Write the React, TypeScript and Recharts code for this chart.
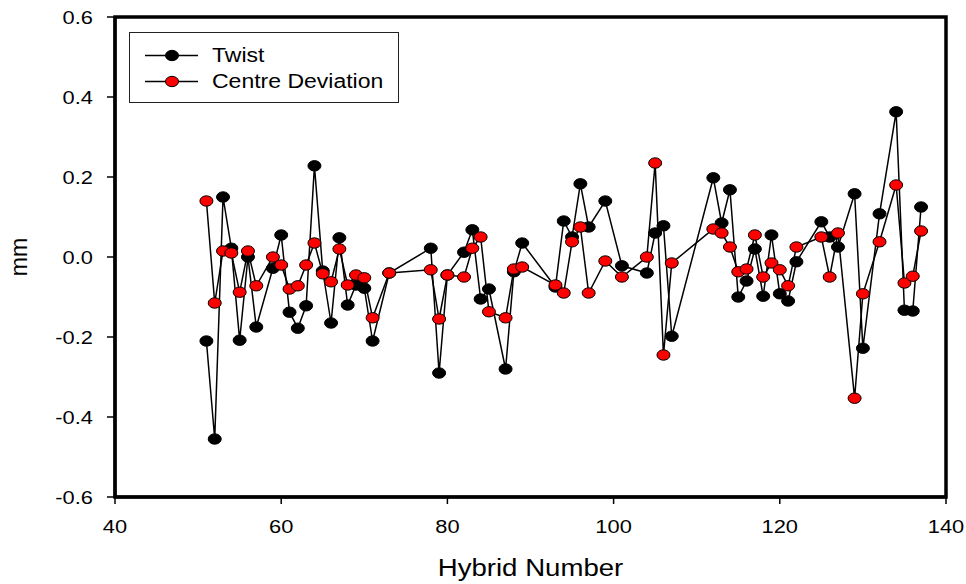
import React from "react";
import {
  LineChart,
  Line,
  XAxis,
  YAxis,
  Legend,
  ReferenceArea,
} from "recharts";

const hybrids = [
  51, 52, 53, 54, 55, 56, 57, 59, 60, 61, 62, 63, 64, 65, 66, 67, 68, 69, 70, 71,
  73, 78, 79, 80, 82, 83, 84, 85, 87, 88, 89, 93, 94, 95, 96, 97, 99, 101, 104,
  105, 106, 107, 112, 113, 114, 115, 116, 117, 118, 119, 120, 121, 122, 125, 126,
  127, 129, 130, 132, 134, 135, 136, 137,
];

const twist = [
  -0.21, -0.455, 0.15, 0.022, -0.208, 0.0, -0.175, -0.028, 0.055, -0.138, -0.178,
  -0.122, 0.228, -0.035, -0.165, 0.048, -0.12, -0.07, -0.078, -0.21, -0.04, 0.022,
  -0.29, -0.045, 0.012, 0.068, -0.105, -0.08, -0.28, -0.037, 0.035, -0.075, 0.09,
  0.05, 0.183, 0.075, 0.14, -0.022, -0.04, 0.06, 0.078, -0.198, 0.198, 0.085, 0.168,
  -0.1, -0.06, 0.02, -0.098, 0.055, -0.092, -0.11, -0.012, 0.088, 0.05, 0.025,
  0.158, -0.228, 0.108, 0.363, -0.133, -0.135, 0.125,
];

const centreDeviation = [
  0.14, -0.115, 0.015, 0.01, -0.088, 0.015, -0.072, 0.0, -0.02, -0.08, -0.072,
  -0.02, 0.035, -0.042, -0.062, 0.02, -0.07, -0.045, -0.052, -0.152, -0.04, -0.032,
  -0.155, -0.045, -0.05, 0.022, 0.05, -0.137, -0.152, -0.03, -0.025, -0.07, -0.09,
  0.038, 0.075, -0.09, -0.01, -0.05, 0.0, 0.235, -0.245, -0.015, 0.07, 0.06, 0.025,
  -0.037, -0.03, 0.055, -0.05, -0.015, -0.032, -0.072, 0.025, 0.05, -0.05, 0.06,
  -0.353, -0.092, 0.038, 0.18, -0.065, -0.048, 0.065,
];

const xTicks = [40, 60, 80, 100, 120, 140];
const yTicks = [-0.6, -0.4, -0.2, 0, 0.2, 0.4, 0.6];

const SERIES = [
  { key: "twist", name: "Twist", fill: "#000000" },
  { key: "centreDeviation", name: "Centre Deviation", fill: "#ff0000" },
];

const data = hybrids.map((h, i) => ({
  hybrid: h,
  twist: twist[i],
  centreDeviation: centreDeviation[i],
}));

const FONT = '"Liberation Sans", Arial, Helvetica, sans-serif';
// the original figure's text is a bit wider than Arial
const STRETCH = 1.15;

const makeDot = (fill: string) => (props: any) => (
  <ellipse
    key={`dot-${fill}-${props.index}`}
    cx={props.cx}
    cy={props.cy}
    rx={6.5}
    ry={5.2}
    fill={fill}
    stroke="#000"
    strokeWidth={1}
  />
);

const YTick = (props: any) => (
  <g transform={`translate(${props.x},${props.y})`}>
    <text
      transform={`scale(${STRETCH},1)`}
      textAnchor="end"
      dy="0.36em"
      fontSize={19}
      fontFamily={FONT}
      fill="#000"
    >
      {Number(props.payload.value).toFixed(1)}
    </text>
  </g>
);

const XTick = (props: any) => (
  <g transform={`translate(${props.x},${props.y})`}>
    <text
      transform={`scale(${STRETCH},1)`}
      textAnchor="middle"
      dy="0.72em"
      fontSize={19}
      fontFamily={FONT}
      fill="#000"
    >
      {props.payload.value}
    </text>
  </g>
);

function LegendBox() {
  return (
    <div
      style={{
        width: 270,
        height: 71,
        boxSizing: "border-box",
        border: "1.5px solid #222",
        paddingTop: 10,
        fontFamily: FONT,
        fontSize: 20,
        color: "#000",
        background: "#fff",
      }}
    >
      {SERIES.map((s) => (
        <div
          key={s.key}
          style={{ display: "flex", alignItems: "center", height: 25.5 }}
        >
          <svg width={82} height={25} style={{ display: "block" }}>
            <line x1={15} y1={12.5} x2={68} y2={12.5} stroke="#000" strokeWidth={1.5} />
            <ellipse cx={42} cy={12.5} rx={6.5} ry={5.2} fill={s.fill} stroke="#000" strokeWidth={1} />
          </svg>
          <span
            style={{
              lineHeight: "25px",
              display: "inline-block",
              transform: `scaleX(${STRETCH})`,
              transformOrigin: "left center",
              whiteSpace: "nowrap",
            }}
          >
            {s.name}
          </span>
        </div>
      ))}
    </div>
  );
}

export default function App() {
  return (
    <div style={{ position: "absolute", left: 0, top: 0, fontFamily: FONT, background: "#fff" }}>
      <LineChart
        width={966}
        height={584}
        data={data}
        margin={{ top: 17, right: 20, bottom: 0, left: 0 }}
      >
        <XAxis
          dataKey="hybrid"
          type="number"
          domain={[40, 140]}
          ticks={xTicks}
          height={87}
          tickSize={7}
          tickMargin={15}
          axisLine={{ stroke: "#000", strokeWidth: 3 }}
          tickLine={{ stroke: "#000", strokeWidth: 1.5 }}
          tick={<XTick />}
          label={{
            content: (p: any) => {
              const vb = p.viewBox;
              return (
                <g transform={`translate(${vb.x + vb.width / 2},${vb.y + vb.height - 8})`}>
                  <text
                    transform={`scale(${STRETCH},1)`}
                    textAnchor="middle"
                    fontSize={24}
                    fontFamily={FONT}
                    fill="#000"
                  >
                    Hybrid Number
                  </text>
                </g>
              );
            },
          }}
        />
        <YAxis
          type="number"
          domain={[-0.6, 0.6]}
          ticks={yTicks}
          width={115}
          tickSize={8}
          tickMargin={14}
          axisLine={{ stroke: "#000", strokeWidth: 3 }}
          tickLine={{ stroke: "#000", strokeWidth: 1.5 }}
          tick={<YTick />}
          label={{
            content: (p: any) => {
              const vb = p.viewBox;
              const x = 19;
              const y = vb.y + vb.height / 2;
              return (
                <text
                  x={x}
                  y={y}
                  transform={`rotate(-90 ${x} ${y})`}
                  textAnchor="middle"
                  dominantBaseline="central"
                  fontSize={23}
                  fontFamily={FONT}
                  fill="#000"
                >
                  mm
                </text>
              );
            },
          }}
        />
        <ReferenceArea
          x1={40}
          x2={140}
          y1={-0.6}
          y2={0.6}
          fill="none"
          fillOpacity={0}
          stroke="#000"
          strokeWidth={3.5}
          ifOverflow="visible"
        />
        <Legend
          layout="vertical"
          align="center"
          verticalAlign="middle"
          wrapperStyle={{ left: 129, top: 32, width: 270, height: 71 }}
          content={() => <LegendBox />}
        />
        {SERIES.map((s) => (
          <Line
            key={s.key}
            dataKey={s.key}
            name={s.name}
            type="linear"
            stroke="#000"
            strokeWidth={1.5}
            dot={makeDot(s.fill)}
            activeDot={false}
            isAnimationActive={false}
          />
        ))}
      </LineChart>
    </div>
  );
}
